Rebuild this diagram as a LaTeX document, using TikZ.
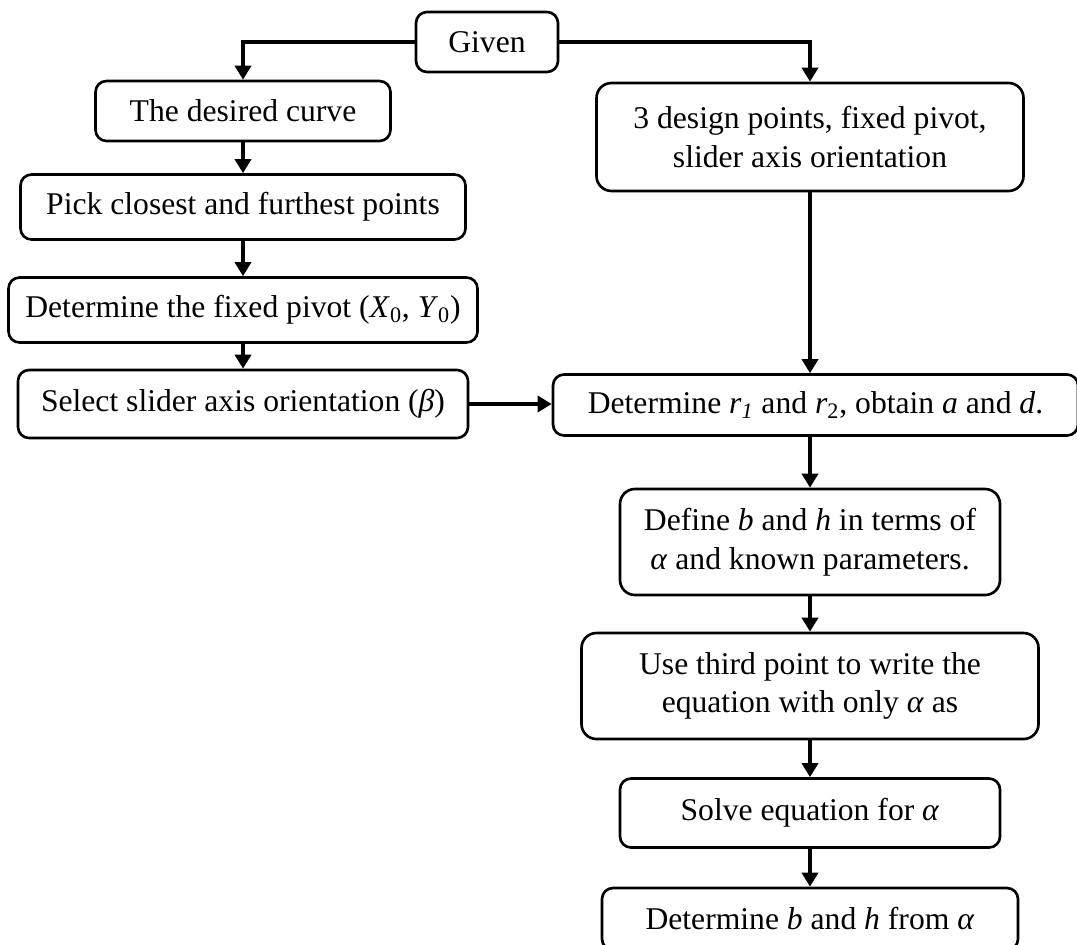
\documentclass[tikz,border=0pt]{standalone}
\usepackage{fontspec}
\setmainfont{Liberation Serif}
\usepackage{tikz}
\usetikzlibrary{positioning,calc,arrows.meta}

\tikzset{
  stepbox/.style={draw, line width=1.5pt, rounded corners=0.22cm, align=center,
    inner sep=2pt, font=\fontsize{18}{22}\selectfont},
  flow/.style={line width=2.3pt, -{Triangle[length=0.28cm, width=0.32cm]}}
}

\begin{document}
\begin{tikzpicture}
    \path[use as bounding box, clip] (0,0) rectangle (21.54,-18.88);

    % start
    \node[stepbox, minimum width=2.84cm, minimum height=1.2cm] (given) at (9.74,-0.84) {Given};

    % left branch
    \node[stepbox, minimum width=5.9cm, minimum height=1.2cm] (curve) at (4.86,-2.22) {The desired curve};
    \node[stepbox, minimum width=8.9cm, minimum height=1.3cm] (pick) at (4.86,-4.14) {Pick closest and furthest points};
    \node[stepbox, minimum width=9.38cm, minimum height=1.3cm] (pivot) at (4.86,-6.2)
        {Determine the fixed pivot (\textit{X}\textsubscript{0}, \textit{Y}\textsubscript{0})};
    \node[stepbox, minimum width=9.0cm, minimum height=1.36cm] (select) at (4.86,-8.08)
        {Select slider axis orientation (\textit{β})};

    % right branch
    \node[stepbox, minimum width=8.54cm, minimum height=2.16cm, rounded corners=0.3cm] (design) at (16.2,-2.74)
        {3 design points, fixed pivot,\\ slider axis orientation};
    \node[stepbox, minimum width=10.5cm, minimum height=1.22cm] (rone) at (16.31,-8.1)
        {Determine \textit{r}\textsubscript{\textit{1}} and \textit{r}\textsubscript{2}, obtain \textit{a} and \textit{d}.};
    \node[stepbox, minimum width=7.6cm, minimum height=2.12cm, rounded corners=0.3cm] (define) at (16.2,-10.84)
        {Define \textit{b} and \textit{h} in terms of\\ \textit{α} and known parameters.};
    \node[stepbox, minimum width=9.14cm, minimum height=2.12cm, rounded corners=0.3cm] (third) at (16.2,-13.72)
        {Use third point to write the\\ equation with only \textit{α} as};
    \node[stepbox, minimum width=7.6cm, minimum height=1.38cm] (solve) at (16.2,-16.26)
        {Solve equation for \textit{α}};
    \node[stepbox, minimum width=8.32cm, minimum height=1.24cm] (final) at (16.2,-18.38)
        {Determine \textit{b} and \textit{h} from \textit{α}};

    % connectors
    \draw[flow] (given.west) -| (curve.north);
    \draw[flow] (given.east) -| (design.north);
    \draw[flow] (curve) -- (pick);
    \draw[flow] (pick) -- (pivot);
    \draw[flow] (pivot) -- (select);
    \draw[flow] (select.east) -- (select.east -| rone.west);
    \draw[flow] (design.south) -- (design.south |- rone.north);
    \draw[flow] (design.south |- rone.south) -- (define.north);
    \draw[flow] (define) -- (third);
    \draw[flow] (third) -- (solve);
    \draw[flow] (solve) -- (final);
\end{tikzpicture}
\end{document}
